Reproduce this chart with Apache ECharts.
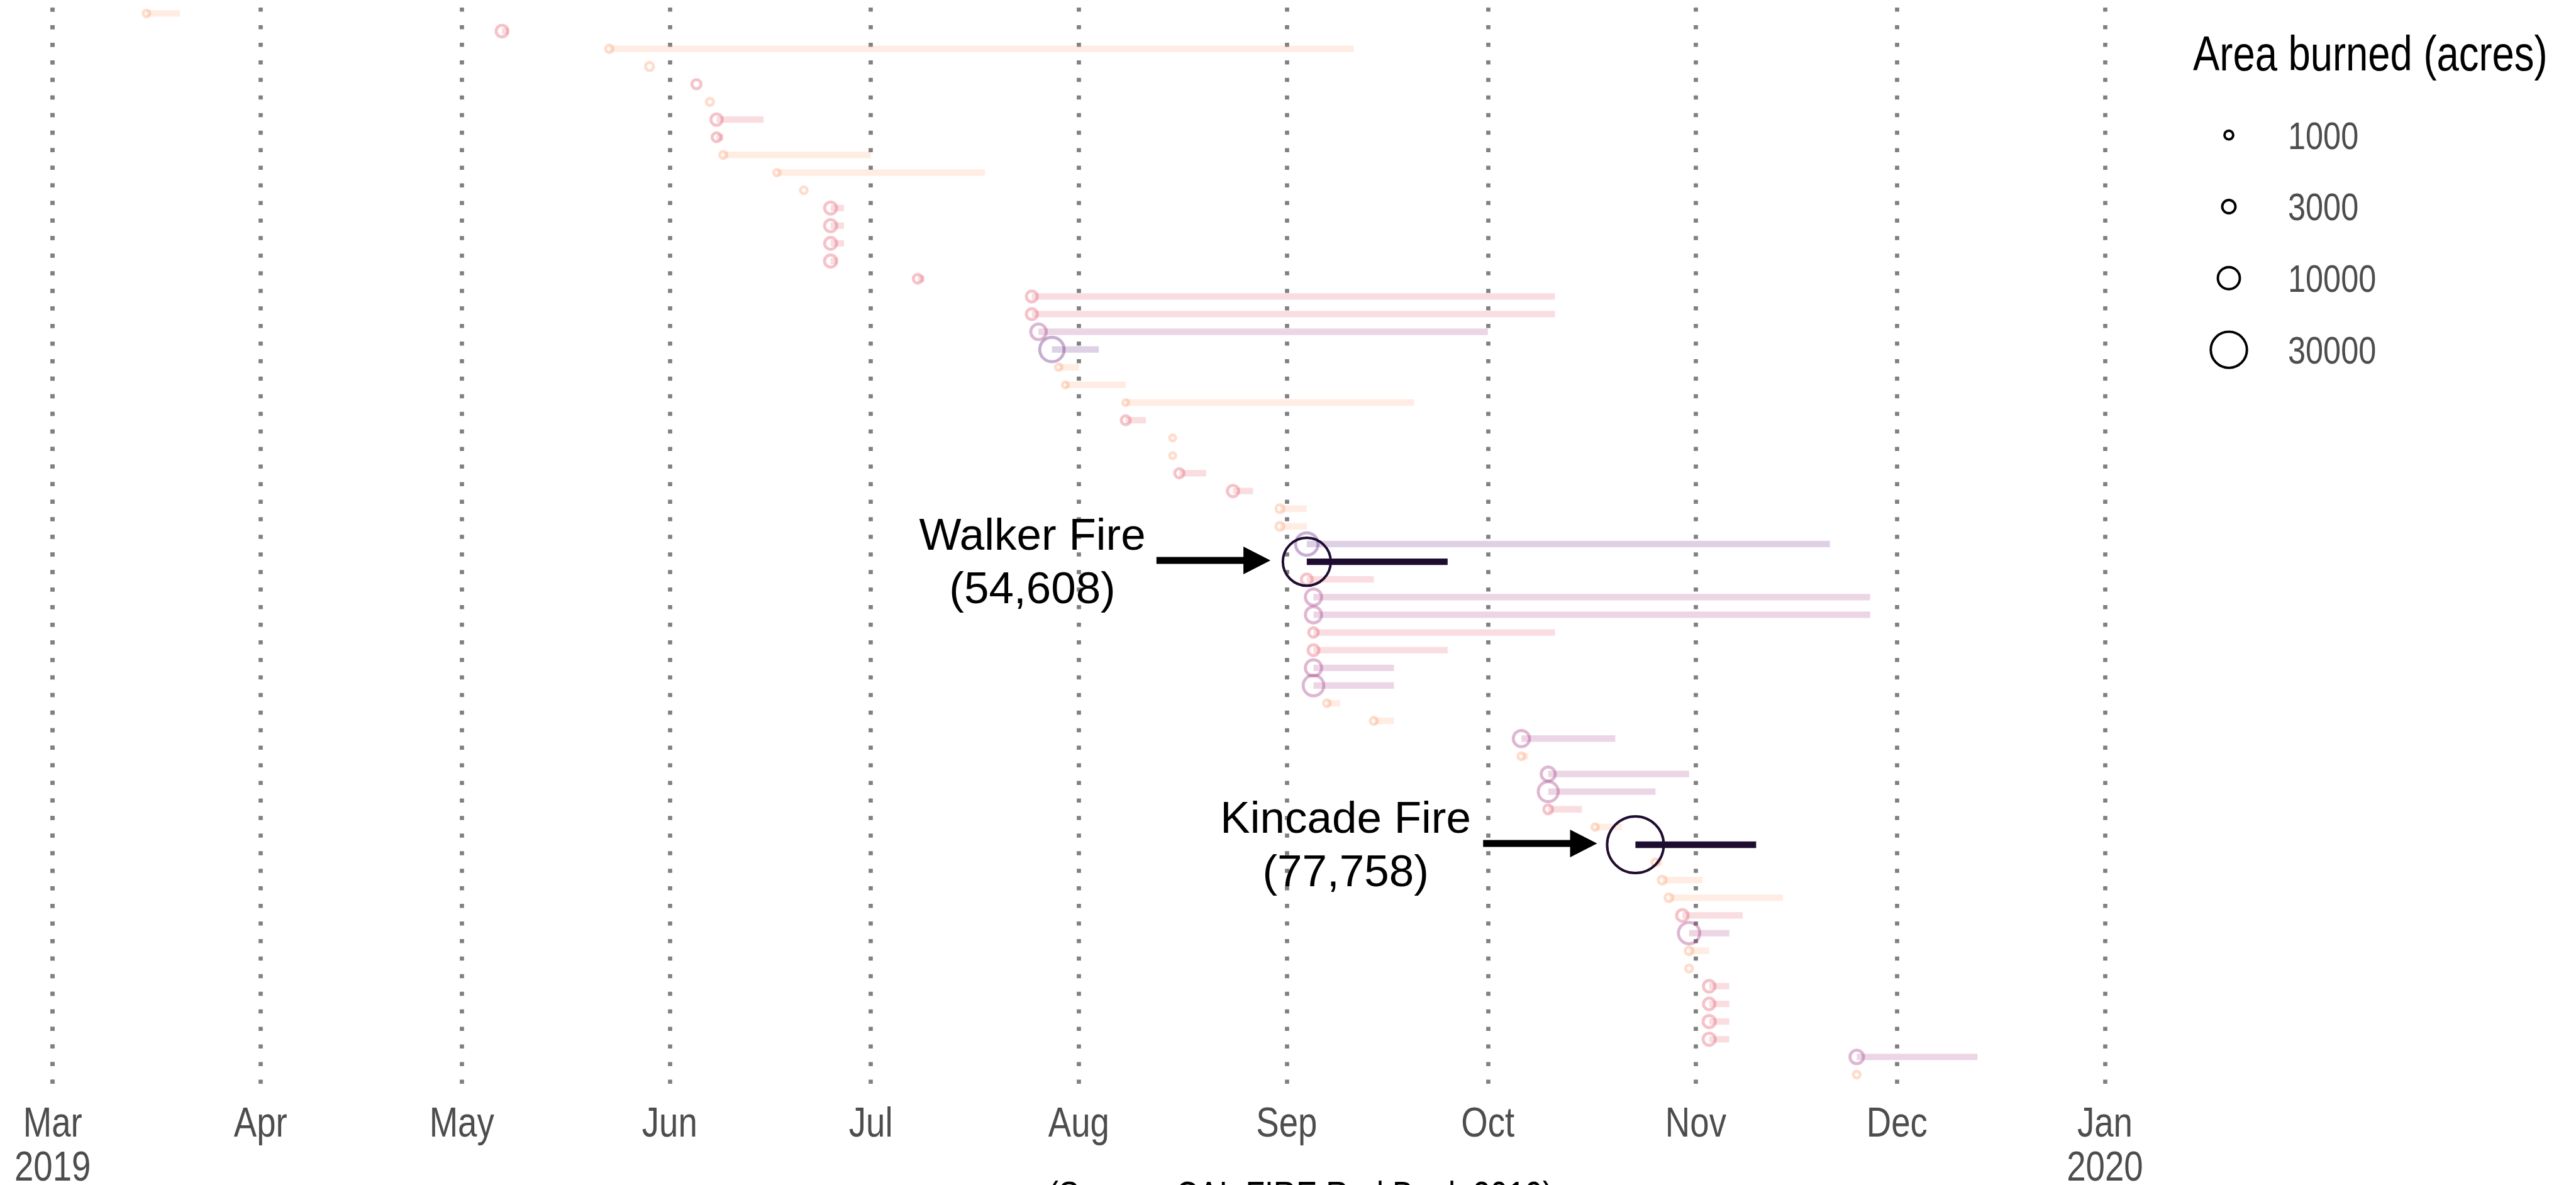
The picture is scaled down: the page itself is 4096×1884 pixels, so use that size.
<!DOCTYPE html>
<html>
<head>
<meta charset="utf-8">
<title>California wildfires 2019</title>
<script src="https://cdn.jsdelivr.net/npm/echarts@6/dist/echarts.min.js"></script>
<style>
  html, body { margin: 0; padding: 0; background: #fff; }
  #chart { width: 4096px; height: 1884px; }
</style>
</head>
<body>
<div id="chart"></div>
<script>
// one entry per fire, top row first
const startDates = [
  '2019-03-15', '2019-05-07', '2019-05-23', '2019-05-29', '2019-06-05', '2019-06-07', '2019-06-08', '2019-06-08', '2019-06-09', '2019-06-17',
  '2019-06-21', '2019-06-25', '2019-06-25', '2019-06-25', '2019-06-25', '2019-07-08', '2019-07-25', '2019-07-25', '2019-07-26', '2019-07-28',
  '2019-07-29', '2019-07-30', '2019-08-08', '2019-08-08', '2019-08-15', '2019-08-15', '2019-08-16', '2019-08-24', '2019-08-31', '2019-08-31',
  '2019-09-04', '2019-09-04', '2019-09-04', '2019-09-05', '2019-09-05', '2019-09-05', '2019-09-05', '2019-09-05', '2019-09-05', '2019-09-07',
  '2019-09-14', '2019-10-06', '2019-10-06', '2019-10-10', '2019-10-10', '2019-10-10', '2019-10-17', '2019-10-23', '2019-10-26', '2019-10-27',
  '2019-10-28', '2019-10-30', '2019-10-31', '2019-10-31', '2019-10-31', '2019-11-03', '2019-11-03', '2019-11-03', '2019-11-03', '2019-11-25',
  '2019-11-25'
]
// containment dates
const endDates = [
  '2019-03-20', '2019-05-08', '2019-09-11', '2019-05-29', '2019-06-05', '2019-06-07', '2019-06-15', '2019-06-09', '2019-07-01', '2019-07-18',
  '2019-06-21', '2019-06-27', '2019-06-27', '2019-06-27', '2019-06-26', '2019-07-09', '2019-10-11', '2019-10-11', '2019-10-01', '2019-08-04',
  '2019-08-01', '2019-08-08', '2019-09-20', '2019-08-11', '2019-08-15', '2019-08-15', '2019-08-20', '2019-08-27', '2019-09-04', '2019-09-04',
  '2019-11-21', '2019-09-25', '2019-09-14', '2019-11-27', '2019-11-27', '2019-10-11', '2019-09-25', '2019-09-17', '2019-09-17', '2019-09-09',
  '2019-09-17', '2019-10-20', '2019-10-07', '2019-10-31', '2019-10-26', '2019-10-15', '2019-10-21', '2019-11-10', '2019-10-27', '2019-11-02',
  '2019-11-14', '2019-11-08', '2019-11-06', '2019-11-03', '2019-10-31', '2019-11-06', '2019-11-06', '2019-11-06', '2019-11-06', '2019-12-13',
  '2019-11-25'
]
// area burned (acres)
const acres = [
  420, 2200, 600, 800, 1140, 540, 2030, 1050, 540, 380,
  460, 2350, 2400, 2300, 2450, 1050, 1840, 1840, 4430, 12650,
  380, 290, 280, 1050, 300, 300, 1140, 2030, 770, 770,
  10500, 54608, 1800, 4970, 4900, 1260, 1800, 4970, 8600, 420,
  540, 4970, 480, 3440, 8030, 1020, 390, 77758, 540, 770,
  710, 2120, 9350, 700, 480, 2150, 2100, 2450, 2450, 3140,
  440
]

// x axis ticks
const tickDates = ['2019-03-01', '2019-04-01', '2019-05-01', '2019-06-01', '2019-07-01', '2019-08-01',
  '2019-09-01', '2019-10-01', '2019-11-01', '2019-12-01', '2020-01-01']
const tickLabels = ['Mar\n2019', 'Apr', 'May', 'Jun', 'Jul', 'Aug', 'Sep', 'Oct', 'Nov', 'Dec', 'Jan\n2020']

const legendBreaks = [1000, 3000, 10000, 30000]
const classBreaks = [1000, 3000, 10000, 30000]
const classColors = ['#fd9f6f', '#e35465', '#a1307f', '#5b177c', '#1e0d30']

// labelled fires: text block and arrow placed in date units on the fire's row
const annotations = [
  { row: 31, name: 'Walker Fire', textAt: '2019-07-25T02:00', arrowFrom: '2019-08-12T14:00', arrowTo: '2019-08-29T14:00' },
  { row: 47, name: 'Kincade Fire', textAt: '2019-09-09T19:00', arrowFrom: '2019-09-30T07:00', arrowTo: '2019-10-17T07:00' }
]

const FONT = "'Liberation Sans', Arial, sans-serif"
const NARROW = 0.82 // theme text is a condensed face, squeeze the regular one

const toTime = s => new Date(s.length === 10 ? s + 'T00:00' : s).getTime()
const colorFor = v => classColors[classBreaks.filter(b => v >= b).length]
const ringSize = v => 4.16 + 0.308 * Math.sqrt(v)

const highlighted = annotations.map(a => a.row)
const allRows = startDates.map((s, i) => i)
const normalRows = allRows.filter(i => highlighted.indexOf(i) < 0)

function barData(list) {
  return list.map(i => [toTime(startDates[i]), toTime(endDates[i]), i, acres[i]])
}
function ringData(list, opacity, width) {
  return list.map(i => ({
    value: [toTime(startDates[i]), i, acres[i]],
    itemStyle: { borderColor: colorFor(acres[i]), opacity: opacity, borderWidth: width }
  }))
}
function renderBar(opacity) {
  return function(params, api) {
    const row = api.value(2)
    const a = api.coord([api.value(0), row])
    const b = api.coord([api.value(1), row])
    return {
      type: 'rect',
      shape: { x: a[0], y: a[1] - 5.15, width: b[0] - a[0], height: 10.3 },
      style: { fill: colorFor(api.value(3)), opacity: opacity }
    }
  }
}
function renderNote(params, api) {
  const note = annotations[params.dataIndex]
  const row = api.value(3)
  const t = api.coord([api.value(0), row])
  const p0 = api.coord([api.value(1), row])
  const p1 = api.coord([api.value(2), row])
  const y = p0[1] - 2
  const xb = p1[0] - 43
  return {
    type: 'group',
    children: [{
      type: 'polygon',
      shape: { points: [[p0[0], y - 5.5], [xb, y - 5.5], [xb, y - 22], [p1[0], y], [xb, y + 22], [xb, y + 5.5], [p0[0], y + 5.5]] },
      style: { fill: '#000' }
    }, {
      type: 'text',
      x: t[0],
      y: t[1] + 4,
      style: {
        text: note.name + '\n(' + acres[note.row].toLocaleString('en-US') + ')',
        fill: '#000',
        fontFamily: FONT,
        fontSize: 71,
        lineHeight: 85.6,
        align: 'center',
        verticalAlign: 'middle'
      }
    }]
  }
}
function renderTick(params, api) {
  const p = api.coord([api.value(0), 60.6])
  return {
    type: 'text',
    x: p[0],
    y: p[1] + 28,
    scaleX: NARROW,
    style: {
      text: tickLabels[params.dataIndex],
      fill: '#4d4d4d',
      fontFamily: FONT,
      fontSize: 66.6,
      lineHeight: 70.3,
      align: 'center',
      verticalAlign: 'top'
    }
  }
}
function renderKey(params, api) {
  const c = api.coord([api.value(0), api.value(1)])
  const v = api.value(2)
  return {
    type: 'group',
    children: [{
      type: 'circle',
      shape: { cx: c[0], cy: c[1], r: ringSize(v) / 2 },
      style: { fill: 'none', stroke: '#000', lineWidth: 3.9 }
    }, {
      type: 'text',
      x: c[0] + 94,
      y: c[1] + 5,
      scaleX: NARROW,
      style: {
        text: String(v),
        fill: '#4d4d4d',
        fontFamily: FONT,
        fontSize: 61.5,
        align: 'left',
        verticalAlign: 'middle'
      }
    }]
  }
}

const chart = echarts.init(document.getElementById('chart'))

chart.setOption({
  animation: false,
  backgroundColor: '#fff',
  graphic: [{
    type: 'text',
    x: 3487,
    y: 52,
    scaleX: NARROW,
    style: {
      text: 'Area burned (acres)',
      fill: '#000',
      fontFamily: FONT,
      fontSize: 77.3,
      lineHeight: 77.3,
      align: 'left',
      verticalAlign: 'top'
    }
  }, {
    type: 'text',
    x: 2068,
    y: 1874,
    scaleX: NARROW,
    style: {
      text: '(Source: CAL FIRE Red Book 2019)',
      fill: '#000',
      fontFamily: FONT,
      fontSize: 61,
      align: 'center',
      verticalAlign: 'top'
    }
  }],
  grid: [
    { left: 83.7, right: 749.1, top: 4.5, bottom: 158.6 },
    { left: 3494, width: 100, top: 157.8, height: 455.2 }
  ],
  xAxis: [{
    type: 'time',
    min: toTime(tickDates[0]),
    max: toTime(tickDates[tickDates.length - 1]),
    splitNumber: 10,
    minInterval: 28 * 86400000,
    maxInterval: 31 * 86400000,
    axisLine: { show: false },
    axisTick: { show: false },
    axisLabel: { show: false },
    splitLine: {
      show: true,
      showMinLine: true,
      showMaxLine: true,
      lineStyle: { color: '#808080', width: 6.7, type: [6.5, 21.44], dashOffset: 20.34 }
    }
  }, {
    type: 'value',
    gridIndex: 1,
    min: 0,
    max: 1,
    show: false
  }],
  yAxis: [{
    type: 'value',
    inverse: true,
    min: -0.6,
    max: 60.6,
    show: false
  }, {
    type: 'category',
    gridIndex: 1,
    inverse: true,
    data: legendBreaks.map(String),
    show: false
  }],
  series: [{
    type: 'custom',
    name: 'duration',
    renderItem: renderBar(0.2),
    encode: { x: [0, 1], y: 2 },
    data: barData(normalRows),
    silent: true,
    z: 2
  }, {
    type: 'scatter',
    name: 'start',
    symbol: 'circle',
    symbolSize: val => ringSize(val[2]),
    itemStyle: { color: 'rgba(0,0,0,0)' },
    data: ringData(normalRows, 0.35, 4.85),
    silent: true,
    z: 3
  }, {
    type: 'custom',
    name: 'duration highlighted',
    renderItem: renderBar(1),
    encode: { x: [0, 1], y: 2 },
    data: barData(highlighted),
    silent: true,
    z: 4
  }, {
    type: 'scatter',
    name: 'start highlighted',
    symbol: 'circle',
    symbolSize: val => ringSize(val[2]),
    itemStyle: { color: 'rgba(0,0,0,0)' },
    data: ringData(highlighted, 1, 4),
    silent: true,
    z: 5
  }, {
    type: 'custom',
    name: 'notes',
    renderItem: renderNote,
    encode: { x: [0, 1, 2], y: 3 },
    data: annotations.map(a => [toTime(a.textAt), toTime(a.arrowFrom), toTime(a.arrowTo), a.row]),
    silent: true,
    z: 6
  }, {
    type: 'custom',
    name: 'month labels',
    renderItem: renderTick,
    encode: { x: 0, y: 1 },
    data: tickDates.map((d, i) => [toTime(d), i]),
    clip: false,
    silent: true
  }, {
    type: 'custom',
    name: 'size key',
    xAxisIndex: 1,
    yAxisIndex: 1,
    renderItem: renderKey,
    encode: { x: 0, y: 1 },
    data: legendBreaks.map((v, i) => [0.5, i, v]),
    clip: false,
    silent: true
  }]
})
</script>
</body>
</html>
